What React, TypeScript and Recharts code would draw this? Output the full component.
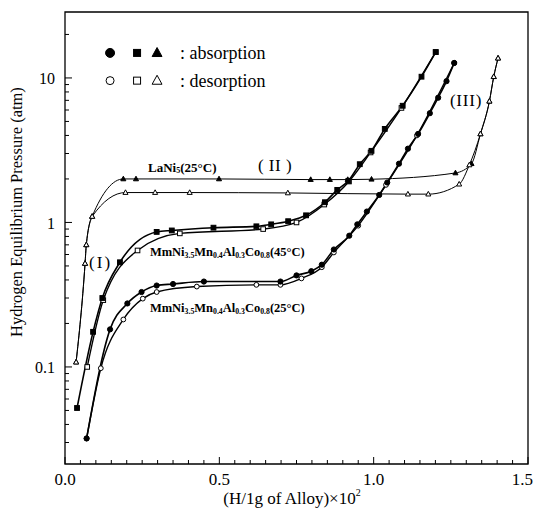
import { LineChart, Line, XAxis, YAxis, ReferenceArea, ReferenceDot } from 'recharts';

const SERIF = '"Liberation Serif", "DejaVu Serif", serif';

// axis ticks
const xTicks = [0, 0.05, 0.1, 0.15, 0.2, 0.25, 0.3, 0.35, 0.4, 0.45, 0.5, 0.55, 0.6, 0.65, 0.7, 0.75, 0.8, 0.85, 0.9, 0.95, 1, 1.05, 1.1, 1.15, 1.2, 1.25, 1.3, 1.35, 1.4, 1.45, 1.5];
const xLabels = [0, 0.5, 1, 1.5];
const yTicks = [0.03, 0.04, 0.05, 0.06, 0.07, 0.08, 0.09, 0.1, 0.2, 0.3, 0.4, 0.5, 0.6, 0.7, 0.8, 0.9, 1, 2, 3, 4, 5, 6, 7, 8, 9, 10, 20];
const yLabels = [0.1, 1, 10];
const yDomain: [number, number] = [0.0213, 28.6];

// [H/1g alloy x10^2, pressure atm]
const laNi5Abs = [[0.036, 0.108], [0.065, 0.52], [0.069, 0.7], [0.088, 1.1], [0.189, 2.0], [0.23, 2.0], [0.499, 2.0], [0.796, 1.98], [0.858, 1.98], [0.916, 1.98], [0.993, 1.99], [1.265, 2.2], [1.317, 2.55], [1.346, 4.1], [1.375, 6.9], [1.389, 10.2], [1.403, 13.7]];
const laNi5Des = [[0.036, 0.108], [0.065, 0.52], [0.069, 0.7], [0.088, 1.1], [0.196, 1.61], [0.292, 1.61], [0.404, 1.61], [0.722, 1.6], [1.111, 1.57], [1.177, 1.57], [1.277, 1.84], [1.31, 2.5], [1.346, 4.1], [1.375, 6.9], [1.389, 10.2], [1.403, 13.7]];

const mm45Abs = [[0.039, 0.052], [0.091, 0.175], [0.121, 0.3], [0.178, 0.53], [0.297, 0.86], [0.346, 0.88], [0.481, 0.92], [0.62, 0.94], [0.668, 0.97], [0.723, 1.02], [0.781, 1.12], [0.842, 1.38], [0.882, 1.68], [0.918, 1.94], [0.955, 2.53], [0.993, 3.13], [1.036, 4.44], [1.094, 6.42], [1.155, 10.2], [1.201, 15.1]];
const mm45Des = [[0.072, 0.1], [0.124, 0.29], [0.235, 0.64], [0.372, 0.84], [0.642, 0.9], [0.75, 1.0], [0.84, 1.33], [0.92, 1.92], [0.99, 3.05], [1.09, 6.2], [1.201, 15.1]];

const mm25Abs = [[0.07, 0.032], [0.146, 0.182], [0.202, 0.275], [0.248, 0.33], [0.297, 0.366], [0.35, 0.375], [0.45, 0.39], [0.698, 0.39], [0.75, 0.43], [0.798, 0.46], [0.832, 0.51], [0.871, 0.65], [0.921, 0.81], [0.947, 0.97], [0.978, 1.19], [1.018, 1.55], [1.044, 1.89], [1.082, 2.55], [1.111, 3.24], [1.144, 4.1], [1.182, 5.7], [1.209, 7.3], [1.236, 9.5], [1.261, 12.7]];
const mm25Des = [[0.07, 0.032], [0.116, 0.098], [0.189, 0.213], [0.252, 0.297], [0.297, 0.33], [0.427, 0.36], [0.62, 0.37], [0.698, 0.37], [0.766, 0.41], [0.832, 0.49], [0.871, 0.62], [0.95, 0.95], [1.04, 1.82], [1.14, 4.0], [1.261, 12.7]];

const toPts = (arr: number[][]) => arr.map(([x, p]) => ({ x, p }));

type Shape = 'circle' | 'square' | 'triangle';

function drawMarker(shape: Shape, filled: boolean, cx: number, cy: number, s: number, key?: string) {
  const fill = filled ? '#000' : '#fff';
  if (shape === 'circle') return <circle key={key} cx={cx} cy={cy} r={s} fill={fill} stroke="#000" strokeWidth={1} />;
  if (shape === 'square') return <rect key={key} x={cx - s} y={cy - s} width={2 * s} height={2 * s} fill={fill} stroke="#000" strokeWidth={1} />;
  return <polygon key={key} points={`${cx},${cy - s * 1.2} ${cx - s * 1.1},${cy + s * 0.8} ${cx + s * 1.1},${cy + s * 0.8}`} fill={fill} stroke="#000" strokeWidth={1} />;
}

const dotOf = (shape: Shape, filled: boolean, s: number) => (props: any) => {
  const { cx, cy, index } = props;
  const key = `${shape}-${filled}-${index}`;
  if (cx == null || cy == null) return <g key={key} />;
  return drawMarker(shape, filled, cx, cy, s, key);
};

const XTick = (props: any) => {
  const { x, y, payload } = props;
  const v = payload.value as number;
  const major = xLabels.includes(v);
  const last = v === xLabels[xLabels.length - 1];
  return (
    <g>
      <line x1={x} y1={y} x2={x} y2={y - (major ? 7 : 4)} stroke="#000" />
      {major && (
        <text x={last ? x + 5 : x} y={y + 15} textAnchor={last ? 'end' : 'middle'} dominantBaseline="central" fontSize={17} fontFamily={SERIF} fill="#000">
          {v.toFixed(1)}
        </text>
      )}
    </g>
  );
};

const YTick = (props: any) => {
  const { x, y, payload } = props;
  const v = payload.value as number;
  const major = yLabels.includes(v);
  return (
    <g>
      <line x1={x} y1={y} x2={x + (major ? 7 : 4)} y2={y} stroke="#000" />
      {major && (
        <text x={x - 10} y={y + 1} textAnchor="end" dominantBaseline="central" fontSize={16} fontFamily={SERIF} fill="#000">
          {String(v)}
        </text>
      )}
    </g>
  );
};

// "_" prefix marks a subscript chunk
const Formula = ({ cx, cy, parts, size }: { cx: number; cy: number; parts: string[]; size: number }) => {
  let down = false;
  return (
    <text x={cx} y={cy} dominantBaseline="central" fontFamily={SERIF} fontWeight="bold" fontSize={size} fill="#000">
      {parts.map((t, i) => {
        const sub = t.startsWith('_');
        const dy = sub && !down ? 3 : !sub && down ? -3 : 0;
        down = sub;
        return (
          <tspan key={i} dy={dy} fontSize={sub ? size * 0.62 : size}>
            {sub ? t.slice(1) : t}
          </tspan>
        );
      })}
    </text>
  );
};

const Plain = ({ cx, cy, text, spacing }: { cx: number; cy: number; text: string; spacing: number }) => (
  <text x={cx} y={cy} dominantBaseline="central" fontFamily={SERIF} fontSize={17} letterSpacing={spacing} fill="#000">
    {text}
  </text>
);

const YTitle = (props: any) => {
  const vb = props.viewBox;
  const cx = vb.x + 16;
  const cy = 212;
  return (
    <text x={cx} y={cy} transform={`rotate(-90, ${cx}, ${cy})`} textAnchor="middle" dominantBaseline="central" fontFamily={SERIF} fontSize={16.5} fill="#000">
      Hydrogen Equilibrium Pressure (atm)
    </text>
  );
};

const XTitle = (props: any) => {
  const vb = props.viewBox;
  return (
    <text x={292} y={vb.y + 34} textAnchor="middle" dominantBaseline="central" fontFamily={SERIF} fontSize={17} fill="#000">
      (H/1g of Alloy)×10<tspan dy={-6} fontSize={10}>2</tspan>
    </text>
  );
};

export default function App() {
  return (
    <div style={{ position: 'absolute', left: 0, top: 0, width: 534, height: 518, background: '#fff' }}>
      <LineChart width={534} height={518} margin={{ top: 12, right: 6, bottom: 0, left: 0 }}>
        <XAxis
          type="number"
          dataKey="x"
          domain={[0, 1.5]}
          ticks={xTicks}
          interval={0}
          allowDataOverflow
          axisLine={false}
          tickLine={false}
          tickSize={0}
          tickMargin={0}
          height={54}
          tick={XTick}
          label={XTitle}
        />
        <YAxis
          type="number"
          dataKey="p"
          scale="log"
          domain={yDomain}
          ticks={yTicks}
          interval={0}
          allowDataOverflow
          axisLine={false}
          tickLine={false}
          tickSize={0}
          tickMargin={0}
          width={65}
          tick={YTick}
          label={YTitle}
        />
        <ReferenceArea x1={0} x2={1.5} y1={yDomain[0]} y2={yDomain[1]} fill="none" stroke="#000" strokeWidth={1.3} ifOverflow="visible" />

        <Line data={toPts(laNi5Abs)} dataKey="p" type="monotone" stroke="#000" strokeWidth={1} dot={dotOf('triangle', true, 2.3)} isAnimationActive={false} />
        <Line data={toPts(laNi5Des)} dataKey="p" type="monotone" stroke="#000" strokeWidth={1} dot={dotOf('triangle', false, 2.3)} isAnimationActive={false} />
        <Line data={toPts(mm45Des)} dataKey="p" type="monotone" stroke="#000" strokeWidth={1.4} dot={dotOf('square', false, 2.3)} isAnimationActive={false} />
        <Line data={toPts(mm45Abs)} dataKey="p" type="monotone" stroke="#000" strokeWidth={1.6} dot={dotOf('square', true, 2.4)} isAnimationActive={false} />
        <Line data={toPts(mm25Des)} dataKey="p" type="monotone" stroke="#000" strokeWidth={1.4} dot={dotOf('circle', false, 2.4)} isAnimationActive={false} />
        <Line data={toPts(mm25Abs)} dataKey="p" type="monotone" stroke="#000" strokeWidth={1.6} dot={dotOf('circle', true, 2.6)} isAnimationActive={false} />

        {/* legend */}
        <ReferenceDot x={0.146} y={14.9} r={0} ifOverflow="visible" shape={(p: any) => (
          <g>
            {drawMarker('circle', true, p.cx, p.cy, 4.5)}
            {drawMarker('square', true, p.cx + 27, p.cy, 3.5)}
            {drawMarker('triangle', true, p.cx + 47, p.cy, 4.5)}
            <text x={p.cx + 70} y={p.cy} dominantBaseline="central" fontFamily={SERIF} fontSize={18} fill="#000">: absorption</text>
          </g>
        )} />
        <ReferenceDot x={0.146} y={9.58} r={0} ifOverflow="visible" shape={(p: any) => (
          <g>
            {drawMarker('circle', false, p.cx, p.cy, 4)}
            {drawMarker('square', false, p.cx + 27, p.cy, 3.5)}
            {drawMarker('triangle', false, p.cx + 47, p.cy, 4.5)}
            <text x={p.cx + 70} y={p.cy} dominantBaseline="central" fontFamily={SERIF} fontSize={18} fill="#000">: desorption</text>
          </g>
        )} />

        {/* curve annotations */}
        <ReferenceDot x={0.269} y={2.41} r={0} ifOverflow="visible" shape={(p: any) => <Formula cx={p.cx} cy={p.cy} size={13} parts={['LaNi', '_5', '(25°C)']} />} />
        <ReferenceDot x={0.275} y={0.623} r={0} ifOverflow="visible" shape={(p: any) => <Formula cx={p.cx} cy={p.cy} size={12.5} parts={['MmNi', '_3.5', 'Mn', '_0.4', 'Al', '_0.3', 'Co', '_0.8', '(45°C)']} />} />
        <ReferenceDot x={0.275} y={0.254} r={0} ifOverflow="visible" shape={(p: any) => <Formula cx={p.cx} cy={p.cy} size={12.5} parts={['MmNi', '_3.5', 'Mn', '_0.4', 'Al', '_0.3', 'Co', '_0.8', '(25°C)']} />} />
        <ReferenceDot x={0.078} y={0.528} r={0} ifOverflow="visible" shape={(p: any) => <Plain cx={p.cx} cy={p.cy} text="(I)" spacing={2} />} />
        <ReferenceDot x={0.625} y={2.48} r={0} ifOverflow="visible" shape={(p: any) => <Plain cx={p.cx} cy={p.cy} text="( II )" spacing={0.5} />} />
        <ReferenceDot x={1.247} y={6.93} r={0} ifOverflow="visible" shape={(p: any) => <Plain cx={p.cx} cy={p.cy} text="(III)" spacing={0.8} />} />
      </LineChart>
    </div>
  );
}
